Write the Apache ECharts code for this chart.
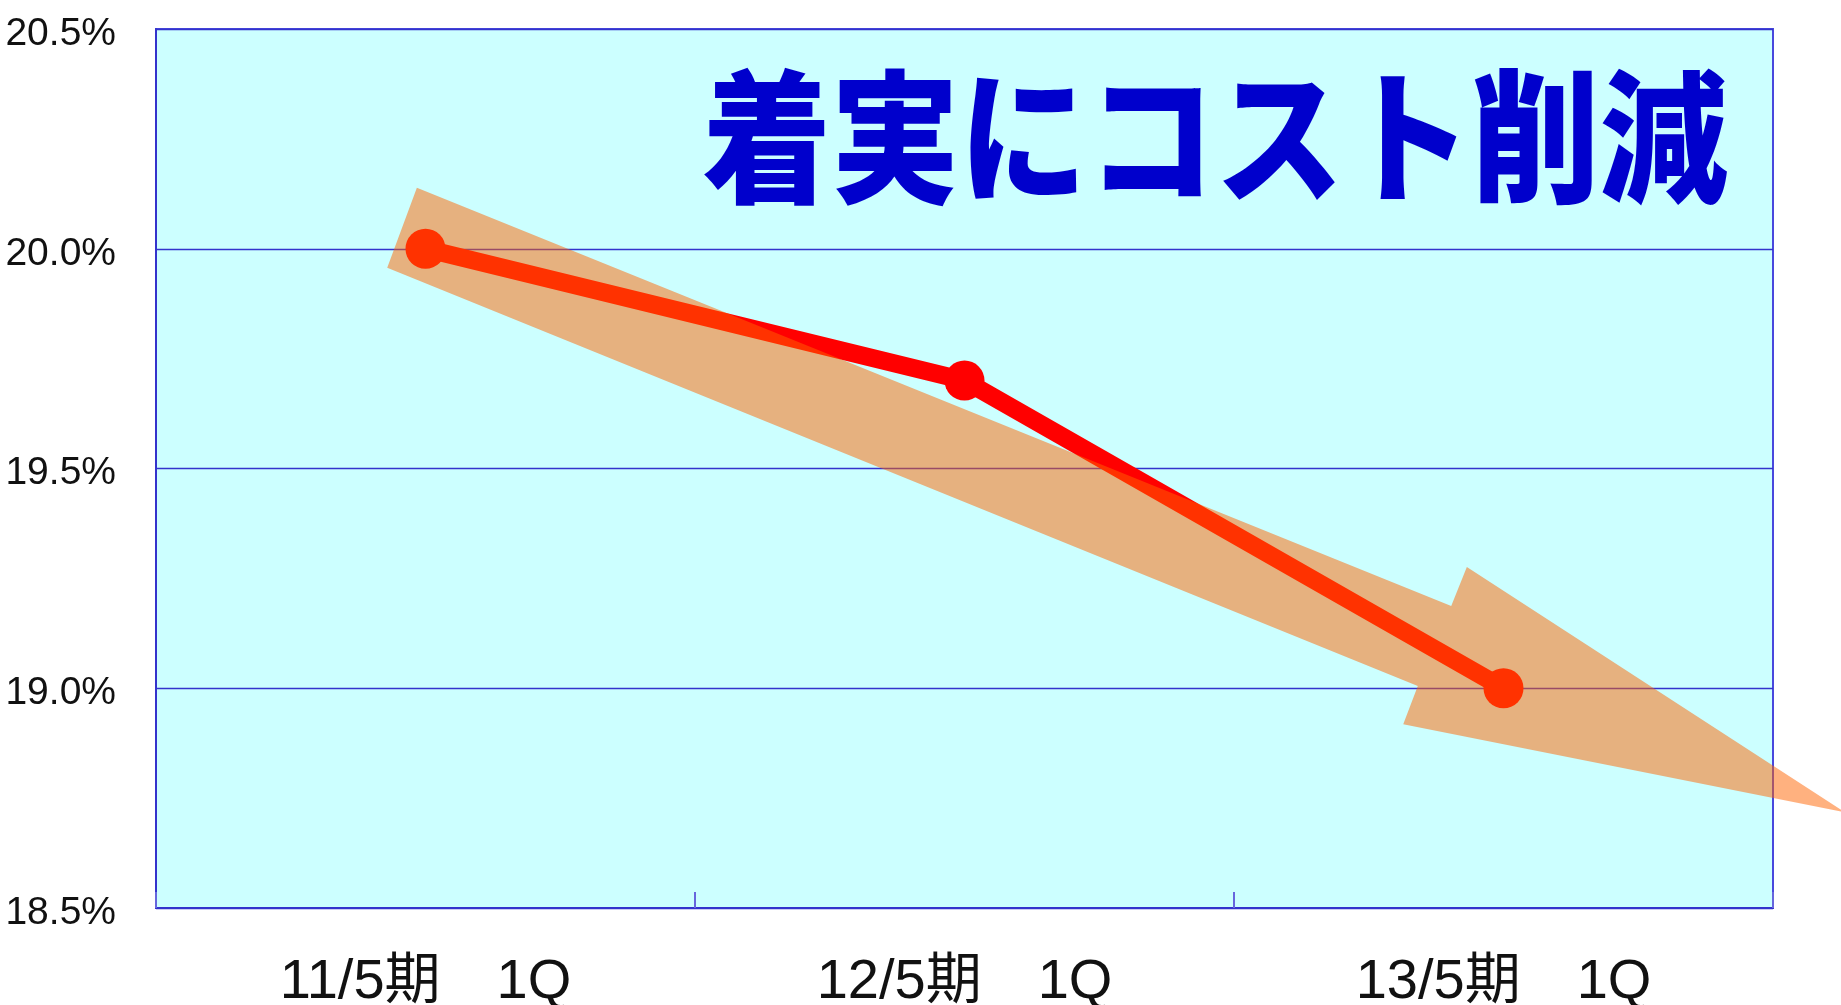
<!DOCTYPE html>
<html>
<head>
<meta charset="utf-8">
<script src="https://cdn.jsdelivr.net/npm/echarts@6/dist/echarts.min.js"></script>
<style>
  html, body { margin: 0; padding: 0; background: #ffffff; }
  #chart { width: 1841px; height: 1005px; }
</style>
</head>
<body>
<div id="chart"></div>
<script>
// Quarterly periods
const categories = ['11/5期　1Q', '12/5期　1Q', '13/5期　1Q'];
// Cost ratio (%)
const costRatio = [20.0, 19.7, 19.0];
// Value axis range and step (%)
const yMin = 18.5;
const yMax = 20.5;
const yStep = 0.5;
// Headline
const headline = '着実にコスト削減';
// Trend arrow outline as [category position, value %]
const arrowOutline = [
  [-0.016, 20.139],
  [1.903, 19.187],
  [1.932, 19.276],
  [2.633, 18.718],
  [1.814, 18.918],
  [1.841, 19.005],
  [-0.071, 19.957]
];

const chart = echarts.init(document.getElementById('chart'));

chart.setOption({
  animation: false,
  backgroundColor: '#ffffff',
  grid: {
    left: 156,
    right: 68,
    top: 29,
    bottom: 97,
    outerBoundsMode: 'none',
    containLabel: false,
    show: true,
    backgroundColor: '#CCFFFF',
    borderColor: '#4848DD',
    borderWidth: 2
  },
  xAxis: {
    type: 'category',
    data: categories,
    boundaryGap: true,
    axisLine: { show: true, lineStyle: { color: '#3333CC', width: 2 } },
    axisTick: { show: true, inside: true, length: 16, lineStyle: { color: '#6666DD', width: 2 } },
    axisLabel: {
      color: '#111111',
      fontSize: 56,
      fontFamily: '"Liberation Sans", "Noto Sans CJK JP", sans-serif',
      margin: 47
    },
    splitLine: { show: false }
  },
  yAxis: {
    type: 'value',
    min: yMin,
    max: yMax,
    interval: yStep,
    axisLine: { show: true, lineStyle: { color: '#3333CC', width: 2 } },
    axisTick: { show: false },
    axisLabel: {
      color: '#111111',
      fontSize: 39,
      fontFamily: '"Liberation Sans Narrow", "Liberation Sans", sans-serif',
      margin: 40,
      verticalAlign: 'top',
      lineHeight: 10,
      formatter: v => v.toFixed(1) + '%'
    },
    splitLine: { show: true, lineStyle: { color: '#3333CC', width: 1.3 } }
  },
  graphic: [
    {
      type: 'text',
      x: 1728,
      y: 137,
      scaleX: 0.89,
      z: 10,
      style: {
        text: headline,
        fill: '#0000CC',
        font: '900 144px "Noto Sans CJK JP"',
        align: 'right',
        verticalAlign: 'middle'
      }
    }
  ],
  series: [
    {
      type: 'line',
      data: costRatio,
      symbol: 'circle',
      symbolSize: 40,
      lineStyle: { color: '#FF0000', width: 18 },
      itemStyle: { color: '#FF0000' },
      z: 2
    },
    {
      type: 'custom',
      silent: true,
      clip: false,
      z: 3,
      data: [[0, costRatio[0]]],
      renderItem: function (params, api) {
        const base = api.coord([0, costRatio[0]]);
        const band = api.size([1, 0])[0];
        const points = arrowOutline.map(function (p) {
          return [base[0] + p[0] * band, api.coord([0, p[1]])[1]];
        });
        return {
          type: 'polygon',
          shape: { points: points },
          style: { fill: 'rgba(255,100,0,0.5)' }
        };
      }
    }
  ]
});
</script>
</body>
</html>
